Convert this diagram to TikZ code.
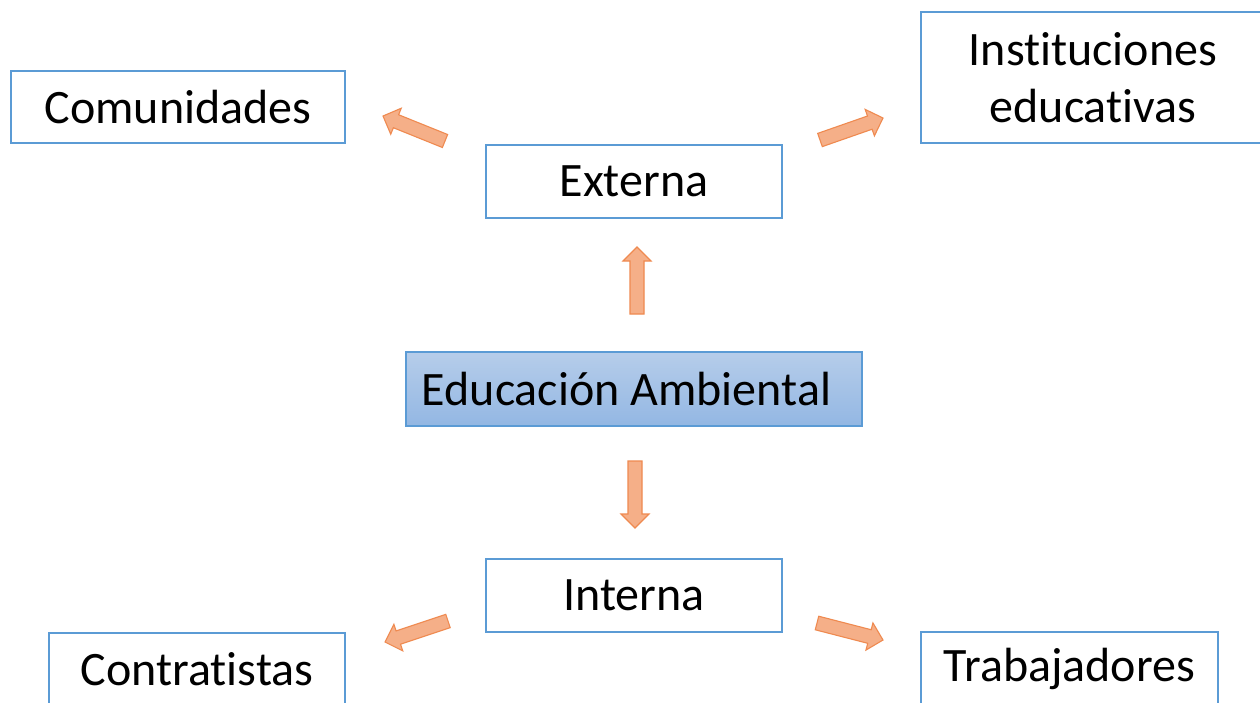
\documentclass[tikz,border=0pt]{standalone}
\usepackage{fontspec}
\setmainfont{Carlito}[Ligatures={NoCommon}]
\usetikzlibrary{calc}
\definecolor{boxblue}{HTML}{5B9BD5}
\definecolor{eatop}{HTML}{B6CDEA}
\definecolor{eabot}{HTML}{93B7E3}
\definecolor{arrfill}{HTML}{F5AF88}
\definecolor{arrdraw}{HTML}{EF8A50}
\tikzset{
  box/.style={draw=boxblue, line width=1.3pt, fill=white, inner sep=0pt, align=center,
    font=\fontsize{48}{57}\selectfont, text=black},
  mainbox/.style={box, shade, top color=eatop, bottom color=eabot},
  blockarrow/.style={fill=arrfill, draw=arrdraw, line width=1.1pt, line join=miter},
}
\newcommand\blockarr[2]{%
  \path[blockarrow]
    ($(#1)!7pt!90:(#2)$) --
    ($($(#2)!14pt!(#1)$)!7pt!90:(#2)$) --
    ($($(#2)!14pt!(#1)$)!14pt!90:(#2)$) --
    (#2) --
    ($($(#2)!14pt!(#1)$)!14pt!-90:(#2)$) --
    ($($(#2)!14pt!(#1)$)!7pt!-90:(#2)$) --
    ($(#1)!7pt!-90:(#2)$) -- cycle;}
\begin{document}
\begin{tikzpicture}[x=1pt,y=1pt]
\useasboundingbox (0,0) rectangle (1260,-702);
\clip (0,0) rectangle (1260,-702);
\fill[white] (0,0) rectangle (1260,-702);

\node[box, minimum width=334pt, minimum height=72pt] (com) at (178,-107) {Comunidades};
\node[box, minimum width=344pt, minimum height=131pt] (inst) at (1093,-77.5) {Instituciones\\educativas};
\node[box, minimum width=296pt, minimum height=73pt] (ext) at (634,-181.5) {Externa};
\node[mainbox, minimum width=456pt, minimum height=74pt] (ea) at (634,-389) {Educación Ambiental\hspace*{15pt}};
\node[box, minimum width=296pt, minimum height=73pt] (int) at (634,-595.5) {Interna};
\node[box, minimum width=296pt, minimum height=72pt] (con) at (197,-669) {Contratistas};
\node[box, minimum width=297pt, minimum height=73pt] (tra) at (1069.5,-668.5) {Trabajadores};

% block arrows
\coordinate (upA) at (637,-314);  \coordinate (upB) at (637,-247);
\coordinate (dnA) at (635,-461);  \coordinate (dnB) at (635,-528);
\coordinate (ulA) at (445,-141);  \coordinate (ulB) at (383,-116);
\coordinate (urA) at (820,-140);  \coordinate (urB) at (883,-118);
\coordinate (llA) at (448,-621);  \coordinate (llB) at (385,-642);
\coordinate (lrA) at (817,-623);  \coordinate (lrB) at (883,-640);
\blockarr{upA}{upB}
\blockarr{dnA}{dnB}
\blockarr{ulA}{ulB}
\blockarr{urA}{urB}
\blockarr{llA}{llB}
\blockarr{lrA}{lrB}
\end{tikzpicture}
\end{document}
